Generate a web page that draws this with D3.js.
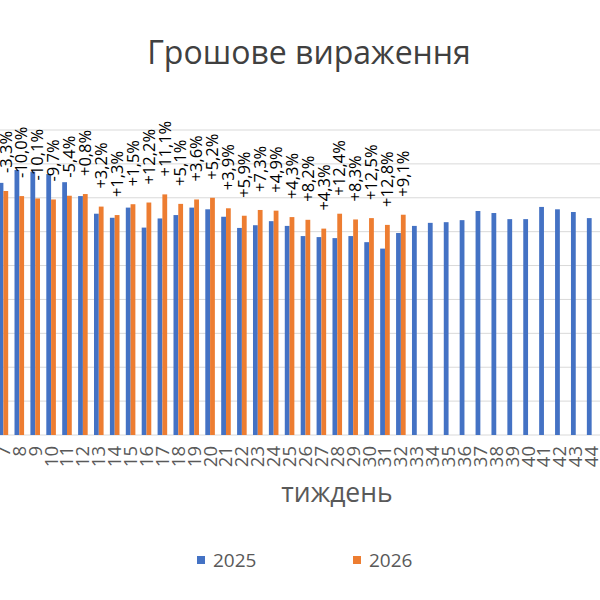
<!DOCTYPE html>
<html><head><meta charset="utf-8">
<script src="https://cdn.jsdelivr.net/npm/d3@7"></script>
<style>body{margin:0;background:#fff}svg{display:block}</style>
</head><body>
<svg id="c" width="600" height="600"></svg>
<script>
const weeks = ["7","8","9","10","11","12","13","14","15","16","17","18","19","20","21","22","23","24","25","26","27","28","29","30","31","32","33","34","35","36","37","38","39","40","41","42","43","44"];
const v2025 = [7.44,7.82,7.77,7.70,7.46,7.05,6.53,6.41,6.71,6.12,6.39,6.49,6.71,6.66,6.44,6.11,6.19,6.31,6.17,5.87,5.84,5.81,5.87,5.69,5.50,5.96,6.17,6.26,6.28,6.34,6.61,6.55,6.37,6.37,6.73,6.66,6.58,6.40];
const v2026 = [7.20,7.05,6.98,6.95,7.06,7.11,6.74,6.49,6.81,6.86,7.10,6.82,6.95,7.00,6.69,6.47,6.64,6.62,6.43,6.35,6.09,6.53,6.36,6.40,6.20,6.50];
const changes = ["-3,3%","-10,0%","-10,1%","-9,7%","-5,4%","+0,8%","+3,2%","+1,3%","+1,5%","+12,2%","+11,1%","+5,1%","+3,6%","+5,2%","+3,9%","+5,9%","+7,3%","+4,9%","+4,3%","+8,2%","+4,3%","+12,4%","+8,3%","+12,5%","+12,8%","+9,1%"];
const seriesNames = ["2025","2026"];
const yTicks = [0,1,2,3,4,5,6,7,8,9];
const title = "Грошове вираження";
const xTitle = "тиждень";

const colors = {"2025":"#4472C4","2026":"#ED7D31"};
const svg = d3.select("#c");
const font = "'Open Sans', sans-serif";

const x = d3.scaleBand().domain(weeks).range([-4.55, 599.6]).paddingInner(0).paddingOuter(0);
const xs = d3.scaleBand().domain(seriesNames).range([0, x.bandwidth()]).paddingInner(0).paddingOuter(0.66);
const y = d3.scaleLinear().domain([0, 9]).range([435, 130]);

// gridlines
svg.append("g").selectAll("line").data(yTicks).join("line")
  .attr("x1", 0).attr("x2", 600)
  .attr("y1", d => y(d)).attr("y2", d => y(d))
  .attr("stroke", "#d9d9d9").attr("stroke-width", 1);

const rows = weeks.map((w, i) => ({w, vals: [v2025[i], v2026[i]]}));
const g = svg.append("g").selectAll("g").data(rows).join("g")
  .attr("transform", d => `translate(${x(d.w)},0)`);
g.selectAll("rect").data(d => seriesNames.map((s, j) => ({s, v: d.vals[j]})).filter(e => e.v != null))
  .join("rect")
  .attr("x", e => xs(e.s)).attr("width", xs.bandwidth())
  .attr("y", e => y(e.v)).attr("height", e => y(0) - y(e.v))
  .attr("fill", e => colors[e.s]);

// data labels
svg.append("g").selectAll("text").data(changes).join("text")
  .attr("transform", (d, i) => `translate(${x(weeks[i]) + xs("2026") + xs.bandwidth()/2},${y(v2026[i]) - 18}) rotate(-90)`)
  .attr("dy", "0.35em")
  .attr("font-family", font).attr("font-size", 16.5).attr("fill", "#000")
  .text(d => d);

// x tick labels
svg.append("g").selectAll("text").data(weeks).join("text")
  .attr("transform", d => `translate(${x(d) + x.bandwidth()/2},446) rotate(-90)`)
  .attr("text-anchor", "end").attr("dy", "0.35em")
  .attr("font-family", font).attr("font-size", 18.5).attr("fill", "#595959")
  .text(d => d);

// title
svg.append("text").attr("x", 309).attr("y", 64).attr("text-anchor", "middle")
  .attr("font-family", font).attr("font-size", 32).attr("fill", "#404040").text(title);

// axis title
svg.append("text").attr("x", 337).attr("y", 502).attr("text-anchor", "middle")
  .attr("font-family", font).attr("font-size", 26.5).attr("fill", "#595959").text(xTitle);

// legend
const legX = [197, 353];
const lg = svg.append("g").selectAll("g").data(seriesNames).join("g")
  .attr("transform", (d, i) => `translate(${legX[i]},556)`);
lg.append("rect").attr("width", 8).attr("height", 8).attr("fill", d => colors[d]);
lg.append("text").attr("x", 16).attr("y", 4).attr("dy", "0.35em")
  .attr("font-family", font).attr("font-size", 19).attr("fill", "#595959").text(d => d);
</script>
</body></html>
